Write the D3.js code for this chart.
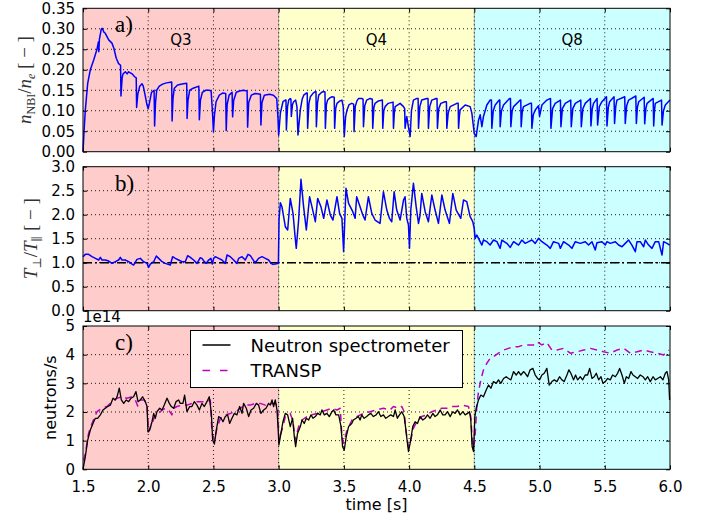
<!DOCTYPE html>
<meta charset="utf-8">
<script src="https://d3js.org/d3.v7.min.js"></script>
<body style="margin:0; background:#fff;">
<div id="chart"></div>
<script>

// ---- data ----
const regions = [
  {name: "Q3", start: 1.5, end: 3.0},
  {name: "Q4", start: 3.0, end: 4.5},
  {name: "Q8", start: 4.5, end: 6.0}
];
const xTicks = [1.5, 2.0, 2.5, 3.0, 3.5, 4.0, 4.5, 5.0, 5.5, 6.0];
const aTicks = [0, 0.05, 0.10, 0.15, 0.20, 0.25, 0.30, 0.35];
const bTicks = [0, 0.5, 1.0, 1.5, 2.0, 2.5, 3.0];
const cTicks = [0, 1, 2, 3, 4, 5];
const legendLabels = ["Neutron spectrometer", "TRANSP"];
const refRatio = 1.0;

// a) n_NBI / n_e  [time s, value]
const nbiFraction = [
  [1.500,0.000],[1.508,0.050],[1.518,0.102],[1.536,0.167],[1.556,0.200],[1.582,0.224],[1.607,0.250],[1.618,0.268],
  [1.621,0.244],[1.626,0.275],[1.640,0.299],[1.648,0.301],[1.660,0.292],[1.671,0.289],[1.697,0.273],[1.722,0.265],
  [1.736,0.253],[1.755,0.228],[1.773,0.215],[1.788,0.211],[1.791,0.136],[1.800,0.180],[1.807,0.190],[1.825,0.195],
  [1.838,0.190],[1.850,0.195],[1.876,0.190],[1.896,0.183],[1.908,0.180],[1.911,0.108],[1.920,0.140],[1.935,0.160],
  [1.952,0.166],[1.962,0.160],[1.975,0.140],[1.990,0.115],[2.000,0.105],[2.010,0.120],[2.025,0.145],[2.045,0.150],
  [2.049,0.063],[2.056,0.120],[2.065,0.150],[2.085,0.160],[2.110,0.165],[2.140,0.168],[2.180,0.170],[2.183,0.075],
  [2.190,0.130],[2.200,0.155],[2.225,0.163],[2.260,0.165],[2.295,0.167],[2.298,0.081],[2.305,0.125],[2.318,0.150],
  [2.345,0.155],[2.388,0.160],[2.392,0.078],[2.400,0.125],[2.415,0.145],[2.440,0.150],[2.470,0.150],[2.482,0.148],
  [2.492,0.100],[2.500,0.049],[2.508,0.090],[2.520,0.122],[2.545,0.138],[2.570,0.143],[2.594,0.142],[2.598,0.052],
  [2.605,0.115],[2.620,0.138],[2.643,0.145],[2.647,0.085],[2.655,0.125],[2.675,0.145],[2.700,0.148],[2.730,0.150],
  [2.758,0.148],[2.762,0.060],[2.770,0.120],[2.790,0.138],[2.820,0.142],[2.860,0.140],[2.864,0.065],[2.872,0.120],
  [2.890,0.138],[2.930,0.140],[2.960,0.138],[2.985,0.130],[2.995,0.080],[3.000,0.040],
  [3.013,0.094],[3.033,0.122],[3.051,0.126],[3.056,0.126],[3.059,0.053],[3.068,0.110],[3.077,0.126],[3.089,0.130],
  [3.094,0.128],[3.097,0.086],[3.106,0.115],[3.115,0.122],[3.130,0.126],[3.140,0.110],[3.148,0.041],[3.166,0.102],
  [3.180,0.128],[3.192,0.138],[3.212,0.143],[3.219,0.143],[3.222,0.057],[3.232,0.118],[3.243,0.134],[3.265,0.143],
  [3.281,0.147],[3.286,0.147],[3.289,0.061],[3.298,0.120],[3.307,0.138],[3.330,0.145],[3.345,0.147],[3.355,0.146],
  [3.358,0.057],[3.366,0.115],[3.375,0.126],[3.395,0.132],[3.409,0.134],[3.426,0.133],[3.429,0.057],[3.437,0.105],
  [3.447,0.118],[3.470,0.124],[3.485,0.126],[3.495,0.110],[3.503,0.037],[3.513,0.085],[3.524,0.102],[3.540,0.115],
  [3.560,0.118],[3.575,0.116],[3.578,0.049],[3.587,0.110],[3.600,0.124],[3.613,0.130],[3.637,0.130],[3.647,0.128],
  [3.650,0.061],[3.660,0.112],[3.675,0.126],[3.701,0.130],[3.718,0.128],[3.721,0.057],[3.730,0.108],[3.739,0.118],
  [3.765,0.124],[3.795,0.126],[3.798,0.057],[3.806,0.100],[3.816,0.110],[3.840,0.118],[3.877,0.121],[3.880,0.057],
  [3.887,0.095],[3.893,0.110],[3.931,0.118],[3.957,0.110],[3.966,0.105],[3.969,0.057],[3.982,0.086],[3.995,0.060],
  [4.008,0.037],[4.018,0.100],[4.033,0.126],[4.059,0.130],[4.069,0.130],[4.072,0.057],[4.082,0.110],[4.097,0.126],
  [4.136,0.130],[4.145,0.130],[4.148,0.057],[4.158,0.110],[4.174,0.126],[4.207,0.130],[4.214,0.130],[4.217,0.057],
  [4.227,0.105],[4.243,0.118],[4.276,0.122],[4.286,0.122],[4.289,0.057],[4.300,0.095],[4.315,0.110],[4.366,0.118],
  [4.376,0.118],[4.379,0.057],[4.385,0.085],[4.391,0.102],[4.430,0.114],[4.468,0.110],[4.481,0.094],[4.499,0.045],
  [4.514,0.037],
  [4.532,0.077],[4.545,0.090],[4.558,0.061],[4.570,0.086],[4.596,0.114],[4.621,0.126],[4.631,0.126],[4.634,0.057],
  [4.645,0.100],[4.660,0.114],[4.691,0.126],[4.695,0.126],[4.698,0.061],[4.708,0.100],[4.724,0.114],[4.770,0.130],
  [4.777,0.130],[4.780,0.061],[4.790,0.100],[4.801,0.110],[4.852,0.126],[4.856,0.126],[4.859,0.061],[4.868,0.100],
  [4.877,0.110],[4.928,0.118],[4.938,0.118],[4.941,0.057],[4.952,0.090],[4.967,0.102],[4.992,0.112],[5.000,0.086],
  [5.018,0.114],[5.056,0.126],[5.084,0.130],[5.087,0.057],[5.100,0.105],[5.120,0.118],[5.160,0.126],[5.164,0.061],
  [5.175,0.105],[5.197,0.118],[5.239,0.126],[5.243,0.061],[5.255,0.105],[5.274,0.118],[5.316,0.126],[5.320,0.061],
  [5.332,0.105],[5.350,0.118],[5.390,0.130],[5.394,0.063],[5.404,0.105],[5.414,0.118],[5.441,0.130],[5.445,0.065],
  [5.458,0.110],[5.478,0.122],[5.513,0.134],[5.517,0.063],[5.527,0.108],[5.537,0.122],[5.571,0.134],[5.575,0.069],
  [5.584,0.110],[5.593,0.126],[5.653,0.134],[5.657,0.069],[5.668,0.112],[5.683,0.126],[5.738,0.136],[5.742,0.069],
  [5.750,0.108],[5.760,0.122],[5.802,0.133],[5.806,0.068],[5.815,0.105],[5.824,0.118],[5.871,0.130],[5.875,0.063],
  [5.881,0.100],[5.887,0.118],[5.935,0.126],[5.939,0.065],[5.950,0.100],[5.964,0.114],[6.000,0.126]
];

// b) T_perp / T_par
const tempRatio = [
  [1.500,1.125],[1.518,1.174],[1.543,1.174],[1.569,1.125],[1.595,1.090],[1.620,1.056],[1.633,1.111],[1.646,1.056],
  [1.671,1.056],[1.697,1.035],[1.722,0.986],[1.748,1.021],[1.773,1.056],[1.786,1.111],[1.799,1.056],[1.824,1.056],
  [1.850,1.021],[1.876,0.972],[1.888,0.951],[1.914,1.069],[1.939,1.090],[1.965,1.021],[1.991,0.986],[2.003,0.903],
  [2.016,0.972],[2.042,1.021],[2.062,1.139],[2.080,1.090],[2.106,1.021],[2.131,0.986],[2.169,0.951],[2.187,1.125],
  [2.208,1.090],[2.233,1.056],[2.259,1.021],[2.284,1.021],[2.302,1.146],[2.323,1.111],[2.348,1.056],[2.374,0.986],
  [2.399,1.104],[2.412,1.090],[2.430,1.021],[2.445,0.986],[2.463,1.056],[2.481,1.090],[2.491,0.972],[2.502,1.090],
  [2.514,1.125],[2.540,1.090],[2.565,1.056],[2.591,0.986],[2.604,1.160],[2.629,1.125],[2.655,1.056],[2.680,0.986],
  [2.693,1.090],[2.719,1.125],[2.744,1.056],[2.765,1.174],[2.783,1.146],[2.808,1.042],[2.821,1.000],[2.846,1.090],
  [2.872,1.125],[2.898,1.090],[2.923,1.056],[2.941,0.986],[2.956,0.965],[2.974,0.972],[2.998,0.986],
  [3.003,1.900],[3.013,2.250],[3.025,2.167],[3.051,1.750],[3.069,1.681],[3.089,2.340],[3.110,2.028],[3.127,1.507],
  [3.135,1.299],[3.153,1.889],[3.171,2.736],[3.191,2.167],[3.212,1.681],[3.237,2.375],[3.255,2.167],[3.281,1.854],
  [3.299,2.340],[3.324,2.167],[3.345,1.924],[3.370,2.306],[3.396,1.993],[3.416,1.889],[3.447,2.375],[3.467,2.028],
  [3.485,1.924],[3.498,1.229],[3.516,2.549],[3.536,2.236],[3.568,2.063],[3.586,1.924],[3.598,2.375],[3.624,2.167],
  [3.645,1.993],[3.662,1.889],[3.688,2.375],[3.714,2.028],[3.739,1.889],[3.777,1.819],[3.803,2.479],[3.829,2.097],
  [3.849,1.924],[3.867,1.854],[3.885,2.479],[3.905,2.097],[3.931,1.889],[3.957,2.306],[3.969,2.375],[3.982,1.924],
  [3.995,1.785],[4.003,1.299],[4.013,2.097],[4.033,2.653],[4.054,2.167],[4.072,1.819],[4.084,1.993],[4.097,2.444],
  [4.123,2.063],[4.148,1.854],[4.174,2.410],[4.199,2.097],[4.225,1.819],[4.251,2.410],[4.276,2.097],[4.309,1.819],
  [4.335,2.444],[4.361,2.097],[4.396,1.924],[4.417,2.306],[4.442,2.271],[4.468,1.958],[4.488,1.854],[4.499,1.715],
  [4.506,1.507],[4.519,1.576],
  [4.532,1.507],[4.558,1.368],[4.570,1.472],[4.596,1.438],[4.621,1.368],[4.647,1.472],[4.673,1.438],[4.698,1.299],
  [4.711,1.472],[4.749,1.403],[4.775,1.319],[4.801,1.438],[4.839,1.368],[4.864,1.472],[4.890,1.403],[4.916,1.438],
  [4.941,1.472],[4.967,1.403],[4.992,1.507],[5.018,1.438],[5.056,1.368],[5.082,1.299],[5.107,1.438],[5.146,1.403],
  [5.159,1.299],[5.184,1.438],[5.223,1.368],[5.248,1.299],[5.274,1.438],[5.312,1.403],[5.350,1.438],[5.376,1.368],
  [5.402,1.438],[5.427,1.264],[5.440,1.417],[5.478,1.438],[5.504,1.368],[5.517,1.438],[5.542,1.403],[5.581,1.438],
  [5.606,1.368],[5.632,1.333],[5.657,1.403],[5.683,1.472],[5.708,1.368],[5.734,1.229],[5.747,1.438],[5.772,1.438],
  [5.798,1.333],[5.811,1.472],[5.836,1.368],[5.862,1.299],[5.887,1.438],[5.913,1.438],[5.939,1.160],[5.951,1.438],
  [5.977,1.403],[5.997,1.368]
];

// c) neutron rate, units of 1e14 /s
const neutronMeasured = [
  [1.500,0.00],[1.518,0.44],[1.536,1.02],[1.556,1.37],[1.582,1.66],[1.595,1.78],[1.612,1.78],[1.633,1.90],
  [1.653,2.07],[1.671,2.13],[1.689,2.19],[1.710,2.24],[1.730,2.48],[1.748,2.42],[1.761,2.53],[1.778,2.83],
  [1.794,2.42],[1.812,2.30],[1.832,2.42],[1.850,2.36],[1.868,2.48],[1.888,2.53],[1.906,2.71],[1.922,2.36],
  [1.939,2.42],[1.957,2.53],[1.978,2.36],[1.991,2.19],[1.998,1.31],[2.011,1.37],[2.029,1.66],[2.042,1.95],
  [2.054,1.78],[2.067,2.01],[2.088,2.13],[2.106,2.07],[2.123,2.24],[2.144,2.48],[2.162,2.30],[2.177,2.19],
  [2.195,2.13],[2.213,2.36],[2.233,2.42],[2.246,2.30],[2.266,2.30],[2.279,2.59],[2.297,2.01],[2.318,2.19],
  [2.335,2.19],[2.353,2.36],[2.374,2.24],[2.392,2.07],[2.412,2.30],[2.430,2.19],[2.450,2.36],[2.468,2.53],
  [2.484,1.95],[2.494,1.02],[2.507,0.88],[2.522,1.37],[2.540,1.84],[2.558,1.78],[2.573,1.66],[2.591,1.84],
  [2.609,1.90],[2.624,1.60],[2.642,1.78],[2.660,1.95],[2.680,1.90],[2.701,2.19],[2.719,1.95],[2.731,2.30],
  [2.752,2.13],[2.770,1.84],[2.788,2.07],[2.808,2.13],[2.829,2.30],[2.846,2.24],[2.864,1.95],[2.885,2.07],
  [2.903,2.13],[2.923,2.30],[2.936,2.24],[2.949,2.42],[2.961,2.19],[2.974,2.42],[2.987,2.07],[2.995,1.49],
  [3.002,0.85],[3.013,1.14],[3.033,1.66],[3.051,1.95],[3.069,1.90],[3.089,1.49],[3.107,1.78],[3.120,1.14],
  [3.130,0.79],[3.145,1.26],[3.166,1.49],[3.179,1.72],[3.196,1.60],[3.212,1.78],[3.230,1.72],[3.248,1.90],
  [3.263,1.78],[3.281,1.84],[3.299,1.95],[3.319,1.90],[3.332,2.07],[3.350,1.90],[3.370,1.95],[3.388,1.84],
  [3.409,2.01],[3.421,2.07],[3.439,1.90],[3.460,1.90],[3.478,1.49],[3.490,0.79],[3.503,0.67],[3.518,1.14],
  [3.536,1.49],[3.560,1.60],[3.573,1.72],[3.593,1.78],[3.611,1.84],[3.624,1.72],[3.637,1.90],[3.655,1.78],
  [3.675,1.84],[3.688,1.90],[3.706,1.95],[3.726,1.84],[3.747,1.90],[3.765,2.01],[3.783,1.84],[3.803,1.90],
  [3.821,1.78],[3.841,1.84],[3.859,1.90],[3.880,1.84],[3.893,2.07],[3.910,1.78],[3.926,1.90],[3.944,2.01],
  [3.962,1.84],[3.974,1.43],[3.987,0.91],[3.995,0.62],[4.008,0.91],[4.028,1.49],[4.046,1.66],[4.064,1.60],
  [4.084,1.84],[4.105,1.72],[4.123,1.78],[4.141,1.90],[4.161,1.78],[4.182,1.95],[4.199,1.84],[4.217,1.90],
  [4.238,2.07],[4.258,1.90],[4.276,1.90],[4.294,2.01],[4.315,1.84],[4.335,2.01],[4.353,1.95],[4.371,2.07],
  [4.391,1.90],[4.412,2.01],[4.430,1.90],[4.448,1.95],[4.463,2.01],[4.473,1.72],[4.483,0.79],[4.494,0.62],
  [4.504,1.84],[4.514,2.13],[4.532,2.42],[4.550,2.59],[4.570,2.53],[4.591,2.77],[4.609,2.94],[4.627,2.83],
  [4.647,3.06],[4.668,3.00],[4.685,3.12],[4.703,3.00],[4.724,3.17],[4.744,3.23],[4.762,3.17],[4.780,3.12],
  [4.801,3.41],[4.821,3.29],[4.839,3.41],[4.857,3.29],[4.877,3.41],[4.890,3.35],[4.908,3.23],[4.928,3.47],
  [4.949,3.52],[4.967,3.29],[4.985,3.17],[5.000,3.12],[5.018,3.29],[5.036,3.35],[5.056,3.52],[5.074,2.94],
  [5.095,3.06],[5.113,3.12],[5.133,3.06],[5.153,3.23],[5.171,3.12],[5.189,3.06],[5.210,3.29],[5.225,3.47],
  [5.240,3.35],[5.261,3.12],[5.276,3.29],[5.292,3.12],[5.312,3.23],[5.330,3.12],[5.350,3.29],[5.368,3.29],
  [5.384,3.52],[5.402,3.17],[5.419,3.23],[5.435,3.35],[5.453,3.12],[5.471,3.23],[5.486,3.00],[5.504,3.06],
  [5.522,3.17],[5.542,3.12],[5.560,3.29],[5.581,3.23],[5.598,3.35],[5.614,3.52],[5.632,3.29],[5.650,3.00],
  [5.665,3.23],[5.683,3.17],[5.701,3.41],[5.716,3.29],[5.734,3.23],[5.752,3.17],[5.772,3.29],[5.793,3.23],
  [5.811,3.12],[5.829,3.23],[5.849,3.06],[5.870,3.23],[5.887,3.12],[5.905,3.17],[5.926,3.23],[5.946,3.12],
  [5.964,3.35],[5.977,3.41],[5.990,3.12],[5.997,2.42]
];

const neutronTransp = [
  [1.505,0.30],[1.518,0.56],[1.543,1.26],[1.569,1.60],[1.607,2.01],[1.646,2.13],[1.684,2.19],[1.722,2.36],
  [1.761,2.48],[1.799,2.53],[1.837,2.48],[1.876,2.53],[1.901,2.42],[1.919,2.21],[1.939,2.42],[1.970,2.42],
  [1.991,2.19],[2.003,1.31],[2.029,1.60],[2.054,1.90],[2.080,1.95],[2.106,2.07],[2.131,2.13],[2.157,2.07],
  [2.182,1.90],[2.195,2.13],[2.220,2.19],[2.259,2.24],[2.297,2.24],[2.335,2.30],[2.374,2.36],[2.412,2.36],
  [2.450,2.36],[2.476,2.42],[2.489,1.26],[2.507,1.02],[2.527,1.43],[2.553,1.78],[2.591,1.90],[2.629,1.95],
  [2.668,2.01],[2.706,2.13],[2.744,2.24],[2.783,2.24],[2.821,2.30],[2.859,2.30],[2.898,2.24],[2.936,2.30],
  [2.974,2.30],[2.992,2.19],[3.002,1.02],[3.025,1.37],[3.051,1.84],[3.089,1.95],[3.110,1.66],[3.127,1.02],
  [3.153,1.49],[3.179,1.72],[3.217,1.84],[3.255,1.90],[3.294,1.95],[3.332,2.01],[3.370,2.07],[3.409,2.13],
  [3.447,2.07],[3.472,2.13],[3.485,1.14],[3.498,0.91],[3.524,1.37],[3.562,1.72],[3.598,1.84],[3.650,1.95],
  [3.701,2.01],[3.752,2.07],[3.803,2.13],[3.854,2.07],[3.880,2.19],[3.918,2.13],[3.944,2.19],[3.962,2.01],
  [3.977,1.31],[3.995,0.79],[4.013,1.02],[4.033,1.43],[4.059,1.66],[4.097,1.84],[4.136,1.90],[4.174,2.01],
  [4.212,2.07],[4.251,2.13],[4.289,2.13],[4.327,2.19],[4.366,2.19],[4.404,2.24],[4.455,2.19],[4.473,1.84],
  [4.488,0.73],[4.504,1.02],[4.519,2.19],[4.532,2.71],[4.550,3.12],[4.570,3.47],[4.596,3.70],[4.621,3.87],
  [4.647,3.93],[4.685,4.05],[4.724,4.16],[4.762,4.22],[4.801,4.28],[4.839,4.28],[4.877,4.34],[4.916,4.34],
  [4.954,4.34],[4.980,4.45],[5.018,4.34],[5.056,4.42],[5.095,4.16],[5.133,4.16],[5.184,4.22],[5.235,4.05],
  [5.286,4.10],[5.338,4.16],[5.389,4.22],[5.440,4.16],[5.491,4.10],[5.542,4.05],[5.593,4.16],[5.645,4.22],
  [5.696,4.05],[5.747,4.10],[5.798,4.16],[5.849,4.10],[5.900,4.05],[5.951,3.99],[5.990,4.16]
];

// ---- layout ----
const W = 716, H = 521;
const plotLeft = 83, plotRight = 670;
const regionColor = {Q3: "#ffcccc", Q4: "#ffffcc", Q8: "#ccffff"};
const fontSans = "DejaVu Sans, sans-serif";
const fontMath = "Liberation Serif, DejaVu Serif, serif";

const svg = d3.select("#chart").append("svg")
    .attr("width", W)
    .attr("height", H)
    .style("font-family", fontSans);

svg.append("rect").attr("width", W).attr("height", H).attr("fill", "#fff");

const x = d3.scaleLinear().domain([1.5, 6.0]).range([plotLeft, plotRight]);

const panels = [
  {tag: "a)", top: 8.3, bottom: 151.7, domain: [0, 0.35], ticks: aTicks, fmt: d3.format(".2f"),
   series: [{data: nbiFraction, color: "#0000ff", width: 1.5, dash: null}]},
  {tag: "b)", top: 166.7, bottom: 310.7, domain: [0, 3.0], ticks: bTicks, fmt: d3.format(".1f"),
   series: [{data: tempRatio, color: "#0000ff", width: 1.5, dash: null}]},
  {tag: "c)", top: 326, bottom: 469.3, domain: [0, 5], ticks: cTicks, fmt: d3.format("d"),
   series: [{data: neutronTransp, color: "#bf00bf", width: 1.5, dash: "7,5"},
            {data: neutronMeasured, color: "#000000", width: 1.3, dash: null}]}
];

panels.forEach(function(p, i) {
  const y = d3.scaleLinear().domain(p.domain).range([p.bottom, p.top]);
  const g = svg.append("g");

  // shaded scenario regions
  g.selectAll("rect.span")
    .data(regions)
    .join("rect")
      .attr("x", d => x(d.start))
      .attr("width", d => x(d.end) - x(d.start))
      .attr("y", p.top)
      .attr("height", p.bottom - p.top)
      .attr("fill", d => regionColor[d.name]);

  // thin edge where regions meet
  g.selectAll("line.edge")
    .data(regions.slice(1))
    .join("line")
      .attr("x1", d => x(d.start)).attr("x2", d => x(d.start))
      .attr("y1", p.top).attr("y2", p.bottom)
      .attr("stroke", "#999").attr("stroke-width", 0.8);

  // dotted grid
  g.selectAll("line.vgrid")
    .data(xTicks.slice(1, -1))
    .join("line")
      .attr("x1", d => x(d)).attr("x2", d => x(d))
      .attr("y1", p.top).attr("y2", p.bottom)
      .attr("stroke", "#000").attr("stroke-width", 0.9)
      .attr("stroke-dasharray", "1,3");
  g.selectAll("line.hgrid")
    .data(p.ticks.slice(1, -1))
    .join("line")
      .attr("x1", plotLeft).attr("x2", plotRight)
      .attr("y1", d => y(d)).attr("y2", d => y(d))
      .attr("stroke", "#000").attr("stroke-width", 0.9)
      .attr("stroke-dasharray", "1,3");

  // reference T_perp = T_par line in panel b
  if (i === 1) {
    g.append("line")
      .attr("x1", plotLeft).attr("x2", plotRight)
      .attr("y1", y(refRatio)).attr("y2", y(refRatio))
      .attr("stroke", "#000").attr("stroke-width", 1.5)
      .attr("stroke-dasharray", "9,3,2,3");
  }

  // data lines
  const line = d3.line().x(d => x(d[0])).y(d => y(d[1]));
  p.series.forEach(function(s) {
    g.append("path")
      .datum(s.data)
      .attr("d", line)
      .attr("fill", "none")
      .attr("stroke", s.color)
      .attr("stroke-width", s.width)
      .attr("stroke-linejoin", "round")
      .attr("stroke-dasharray", s.dash);
  });

  // frame
  g.append("rect")
    .attr("x", plotLeft).attr("y", p.top)
    .attr("width", plotRight - plotLeft).attr("height", p.bottom - p.top)
    .attr("fill", "none").attr("stroke", "#000").attr("stroke-width", 1);

  // inward ticks on all four sides
  const last = (i === panels.length - 1);
  const axB = g.append("g").attr("transform", "translate(0," + p.bottom + ")")
    .call(d3.axisBottom(x).tickValues(xTicks).tickSizeInner(-4).tickSizeOuter(0)
      .tickPadding(12).tickFormat(last ? d3.format(".1f") : ""));
  const axT = g.append("g").attr("transform", "translate(0," + p.top + ")")
    .call(d3.axisTop(x).tickValues(xTicks).tickSizeInner(-4).tickSizeOuter(0).tickFormat(""));
  const axL = g.append("g").attr("transform", "translate(" + plotLeft + ",0)")
    .call(d3.axisLeft(y).tickValues(p.ticks).tickSizeInner(-4).tickSizeOuter(0)
      .tickPadding(8).tickFormat(p.fmt));
  const axR = g.append("g").attr("transform", "translate(" + plotRight + ",0)")
    .call(d3.axisRight(y).tickValues(p.ticks).tickSizeInner(-4).tickSizeOuter(0).tickFormat(""));
  [axB, axT, axL, axR].forEach(function(a) {
    a.select(".domain").remove();
    a.attr("font-family", fontSans).attr("font-size", 15);
    a.selectAll("text").attr("fill", "#000");
  });

  // panel tag
  g.append("text")
    .attr("x", plotLeft + 32).attr("y", p.top + 24)
    .attr("font-family", fontMath).attr("font-size", 23)
    .text(p.tag);

  // region names only on the top panel
  if (i === 0) {
    g.selectAll("text.region")
      .data(regions)
      .join("text")
        .attr("x", d => x((d.start + d.end) / 2))
        .attr("y", p.top + 37)
        .attr("text-anchor", "middle")
        .attr("font-size", 15)
        .text(d => d.name);
  }
});

// ---- y-axis labels ----
const labA = svg.append("text")
    .attr("transform", "translate(31," + ((panels[0].top + panels[0].bottom) / 2) + ") rotate(-90)")
    .attr("text-anchor", "middle")
    .attr("font-family", fontMath).attr("font-size", 19).attr("fill", "#333");
labA.append("tspan").attr("font-style", "italic").text("n");
labA.append("tspan").attr("font-size", 12).attr("dy", 4).text("NBI");
labA.append("tspan").attr("dy", -4).text("/");
labA.append("tspan").attr("font-style", "italic").text("n");
labA.append("tspan").attr("font-style", "italic").attr("font-size", 12).attr("dy", 4).text("e");
labA.append("tspan").attr("dy", -4).text(" [ \u2212 ]");

const labB = svg.append("text")
    .attr("transform", "translate(37," + ((panels[1].top + panels[1].bottom) / 2) + ") rotate(-90)")
    .attr("text-anchor", "middle")
    .attr("font-family", fontMath).attr("font-size", 19).attr("fill", "#333");
labB.append("tspan").attr("font-style", "italic").text("T");
labB.append("tspan").attr("font-size", 12).attr("dy", 4).text("\u22a5");
labB.append("tspan").attr("dy", -4).text("/");
labB.append("tspan").attr("font-style", "italic").text("T");
labB.append("tspan").attr("font-size", 12).attr("dy", 4).text("\u2225");
labB.append("tspan").attr("dy", -4).text(" [ \u2212 ]");

svg.append("text")
    .attr("transform", "translate(56," + ((panels[2].top + panels[2].bottom) / 2) + ") rotate(-90)")
    .attr("text-anchor", "middle")
    .attr("font-size", 16)
    .text("neutrons/s");

// offset text of panel c
svg.append("text")
    .attr("x", plotLeft).attr("y", panels[2].top - 4)
    .attr("font-size", 15)
    .text("1e14");

// x label
svg.append("text")
    .attr("x", (plotLeft + plotRight) / 2).attr("y", 510)
    .attr("text-anchor", "middle")
    .attr("font-size", 16)
    .text("time [s]");

// ---- legend ----
const leg = svg.append("g").attr("transform", "translate(190.5,330.5)");
leg.append("rect")
    .attr("width", 272).attr("height", 57)
    .attr("fill", "#fff").attr("stroke", "#000").attr("stroke-width", 1);
const legStyles = [
  {color: "#000000", dash: null},
  {color: "#bf00bf", dash: "7.5,10"}
];
legendLabels.forEach(function(label, k) {
  const yy = 14.5 + k * 25.5;
  leg.append("line")
    .attr("x1", 12).attr("x2", 40).attr("y1", yy).attr("y2", yy)
    .attr("stroke", legStyles[k].color).attr("stroke-width", 1.5)
    .attr("stroke-dasharray", legStyles[k].dash);
  leg.append("text")
    .attr("x", 60).attr("y", yy + 6.5)
    .attr("font-size", 18)
    .text(label);
});

</script>
</body>
